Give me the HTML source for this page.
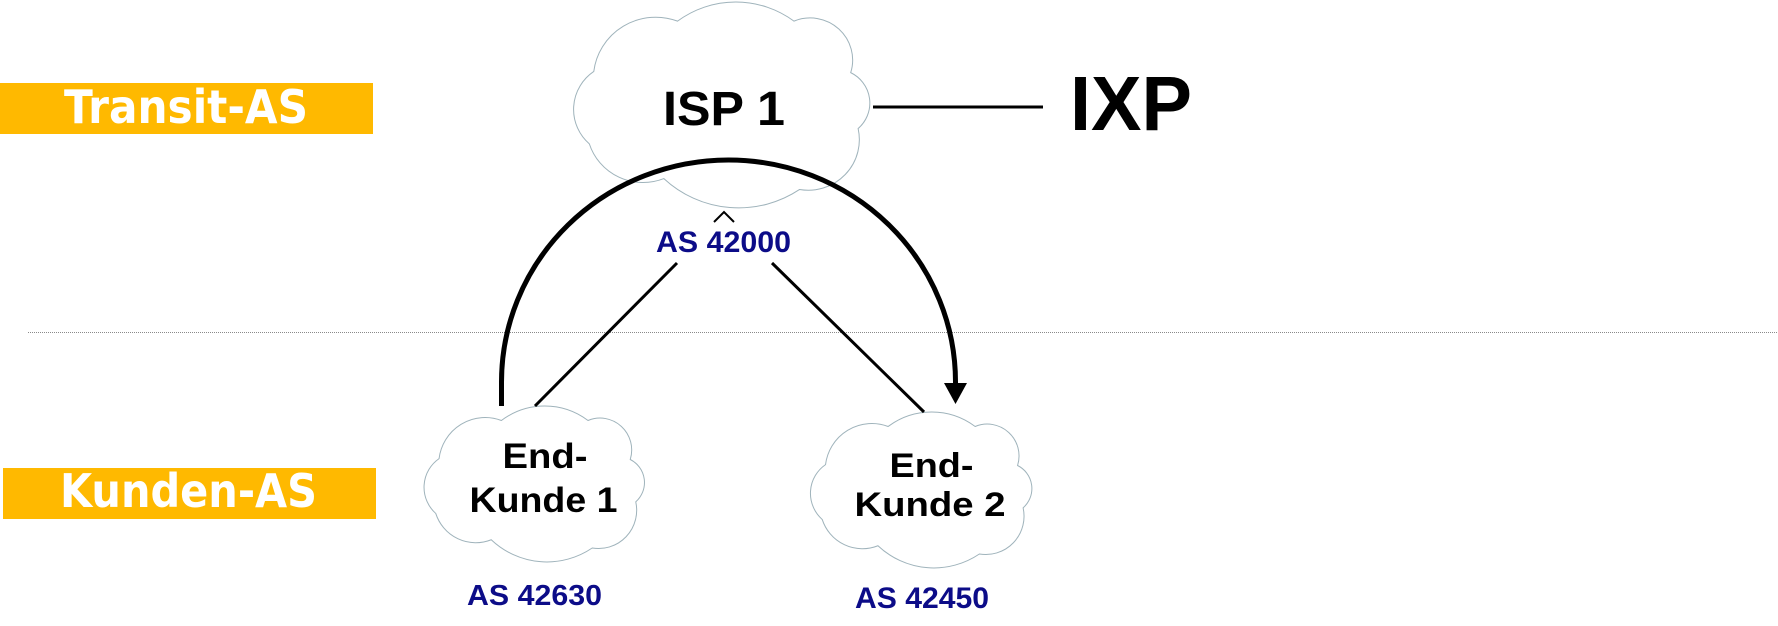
<!DOCTYPE html>
<html>
<head>
<meta charset="utf-8">
<style>
  html, body { margin: 0; padding: 0; background: #ffffff; }
  body { width: 1778px; height: 626px; overflow: hidden; }
  svg { display: block; }
</style>
</head>
<body>
<svg width="1778" height="626" viewBox="0 0 1778 626" xmlns="http://www.w3.org/2000/svg">
  <!-- yellow bars -->
  <rect x="0" y="83" width="373" height="51" fill="#FFB900"/>
  <rect x="3" y="468" width="373" height="51" fill="#FFB900"/>
  <text x="64" y="123" font-family="DejaVu Sans, Liberation Sans, sans-serif" font-weight="bold" font-size="46" fill="#ffffff" textLength="244" lengthAdjust="spacingAndGlyphs">Transit-AS</text>
  <text x="60" y="507" font-family="DejaVu Sans, Liberation Sans, sans-serif" font-weight="bold" font-size="46" fill="#ffffff" textLength="257" lengthAdjust="spacingAndGlyphs">Kunden-AS</text>

  <!-- dotted separator -->
  <line x1="28" y1="332.5" x2="1778" y2="332.5" stroke="#8a8a8a" stroke-width="1" stroke-dasharray="1 1"/>

  <!-- clouds -->
  <g fill="#ffffff" stroke="#9fb3bb">
    <path d="M70,236 A210,210 0 0 1 352,65 A328,328 0 0 1 744,65 A143,143 0 0 1 935,240 A115,115 0 0 1 960,430 A172,172 0 0 1 763,637 A368,368 0 0 1 306,600 A190,190 0 0 1 55,482 A156,156 0 0 1 70,236 Z" transform="translate(573,2) scale(0.297,0.2943)" vector-effect="non-scaling-stroke" stroke-width="1"/>
    <path d="M70,236 A210,210 0 0 1 352,65 A328,328 0 0 1 744,65 A143,143 0 0 1 935,240 A115,115 0 0 1 960,430 A172,172 0 0 1 763,637 A368,368 0 0 1 306,600 A190,190 0 0 1 55,482 A156,156 0 0 1 70,236 Z" transform="translate(423.6,406) scale(0.221,0.2229)" vector-effect="non-scaling-stroke" stroke-width="1"/>
    <path d="M70,236 A210,210 0 0 1 352,65 A328,328 0 0 1 744,65 A143,143 0 0 1 935,240 A115,115 0 0 1 960,430 A172,172 0 0 1 763,637 A368,368 0 0 1 306,600 A190,190 0 0 1 55,482 A156,156 0 0 1 70,236 Z" transform="translate(810,412) scale(0.222,0.2229)" vector-effect="non-scaling-stroke" stroke-width="1"/>
  </g>

  <!-- IXP connector -->
  <line x1="873" y1="107" x2="1043" y2="107" stroke="#000" stroke-width="3"/>

  <!-- diagonal links -->
  <line x1="677" y1="263" x2="535" y2="406" stroke="#000" stroke-width="3"/>
  <line x1="772" y1="263" x2="924" y2="412" stroke="#000" stroke-width="3"/>

  <!-- big arc with arrow -->
  <path d="M501.5,406 L501.5,382 A227,222 0 0 1 955.5,382 L955.5,385" fill="none" stroke="#000" stroke-width="5"/>
  <polygon points="944,383 967,383 955.5,404" fill="#000"/>

  <!-- caret -->
  <polyline points="714,222 724,212 734,222" fill="none" stroke="#000" stroke-width="2"/>

  <!-- labels -->
  <g font-family="Liberation Sans, Arial, sans-serif" font-weight="bold" fill="#000">
    <text x="663" y="125" font-size="48" textLength="122" lengthAdjust="spacingAndGlyphs">ISP 1</text>
    <text x="1070" y="130" font-size="77" textLength="122" lengthAdjust="spacingAndGlyphs">IXP</text>
    <text x="502.5" y="468" font-size="35" textLength="85" lengthAdjust="spacingAndGlyphs">End-</text>
    <text x="469.5" y="512" font-size="35" textLength="148" lengthAdjust="spacingAndGlyphs">Kunde 1</text>
    <text x="889.5" y="477" font-size="34" textLength="84" lengthAdjust="spacingAndGlyphs">End-</text>
    <text x="854.5" y="516" font-size="34" textLength="151" lengthAdjust="spacingAndGlyphs">Kunde 2</text>
  </g>
  <g font-family="Liberation Sans, Arial, sans-serif" font-weight="bold" fill="#0c0c88">
    <text x="656" y="252" font-size="30" textLength="135" lengthAdjust="spacingAndGlyphs">AS 42000</text>
    <text x="467" y="605" font-size="29" textLength="135" lengthAdjust="spacingAndGlyphs">AS 42630</text>
    <text x="855" y="608" font-size="30" textLength="134" lengthAdjust="spacingAndGlyphs">AS 42450</text>
  </g>
</svg>
</body>
</html>
